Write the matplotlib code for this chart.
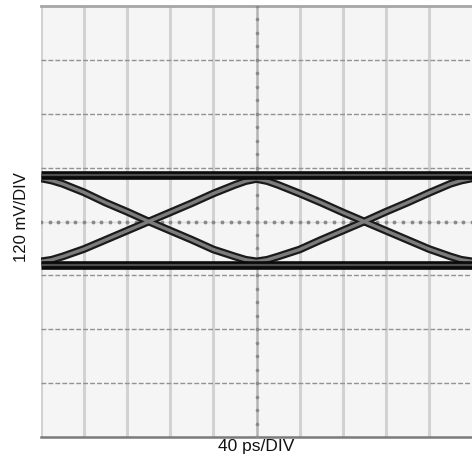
import matplotlib
matplotlib.use("Agg")
import matplotlib.pyplot as plt

plt.rcParams['font.family'] = ['Liberation Sans', 'DejaVu Sans']

# Time axis in divisions (40 ps/DIV), voltage in divisions (120 mV/DIV)
t_div = [0, 0.25, 0.5, 1.0, 1.5, 2.0, 2.5, 3.0, 3.5, 4.0, 4.5, 4.75, 5.0,
         5.25, 5.5, 6.0, 6.5, 7.0, 7.5, 8.0, 8.5, 9.0, 9.5, 9.75, 10]
rising_v = [-0.74, -0.71, -0.65, -0.51, -0.34, -0.17, 0.0, 0.17, 0.34, 0.52, 0.68, 0.75, 0.79,
            0.75, 0.68, 0.52, 0.35, 0.17, 0.0, -0.17, -0.34, -0.51, -0.65, -0.71, -0.74]
falling_v = [0.80, 0.76, 0.70, 0.54, 0.35, 0.18, 0.0, -0.17, -0.34, -0.52, -0.65, -0.71, -0.74,
             -0.71, -0.65, -0.52, -0.34, -0.17, 0.0, 0.18, 0.35, 0.53, 0.70, 0.76, 0.80]
rail_t = [0, 10]
high_rail = [0.86, 0.86]
low_rail = [-0.80, -0.80]

x_label = "40 ps/DIV"
y_label = "120 mV/DIV"
n_xdiv = 10
n_ydiv = 8

fig = plt.figure(figsize=(4.72, 4.75), dpi=100)
ax = fig.add_axes([41/472, 38/475, 431/472, 431/475])
ax.set_xlim(0, n_xdiv)
ax.set_ylim(-n_ydiv/2, n_ydiv/2)
ax.set_facecolor('#f5f5f5')
for s in ax.spines.values():
    s.set_visible(False)
ax.set_xticks([])
ax.set_yticks([])

# graticule
for x in range(0, n_xdiv):
    if x == 5:
        continue
    ax.axvline(x, color='#d2d2d2', lw=2.2, zorder=1)
for y in range(-3, 4):
    if y == 0:
        continue
    ax.axhline(y, color='#929292', lw=1.0, dashes=(3.5, 1.5), zorder=1.5)
ax.axhline(4, color='#a6a6a6', lw=2.0, zorder=1.5, clip_on=False)
ax.axhline(-4, color='#7a7a7a', lw=1.8, zorder=1.5, clip_on=False)

# center lines with minor tick dots
ax.axvline(5, color='#b4b4b4', lw=1.8, zorder=1.6)
ax.axhline(0, color='#e0e0e0', lw=1.0, zorder=1.6)
xd = [i / 5 for i in range(0, n_xdiv * 5 + 1)]
ax.plot(xd, [0] * len(xd), ls='none', marker='o', ms=2.8, mfc='#8a8a8a', mec='none', zorder=1.7)
yd = [i / 4 for i in range(-16, 17)]
ax.plot([5] * len(yd), yd, ls='none', marker='o', ms=2.6, mfc='#8a8a8a', mec='none', zorder=1.7)

# eye traces
for v in (rising_v, falling_v):
    ax.plot(t_div, v, color='#1a1a1a', lw=5.6, solid_capstyle='butt', solid_joinstyle='round', zorder=3)
    ax.plot(t_div, v, color='#7c7c7c', lw=2.4, solid_capstyle='butt', solid_joinstyle='round', zorder=3.1)
for v in (high_rail, low_rail):
    ax.plot(rail_t, v, color='#0a0a0a', lw=6.2, solid_capstyle='butt', zorder=3.2)
    ax.plot(rail_t, v, color='#4e4e4e', lw=1.6, solid_capstyle='butt', zorder=3.3)

fig.text(256/472, 1 - 447/475, x_label, ha='center', va='center', fontsize=12.5, color='#111111')
fig.text(22/472, 1 - 217/475, y_label, ha='center', va='center', rotation=90, fontsize=12, color='#111111')

fig.savefig("out.png", dpi=100)
